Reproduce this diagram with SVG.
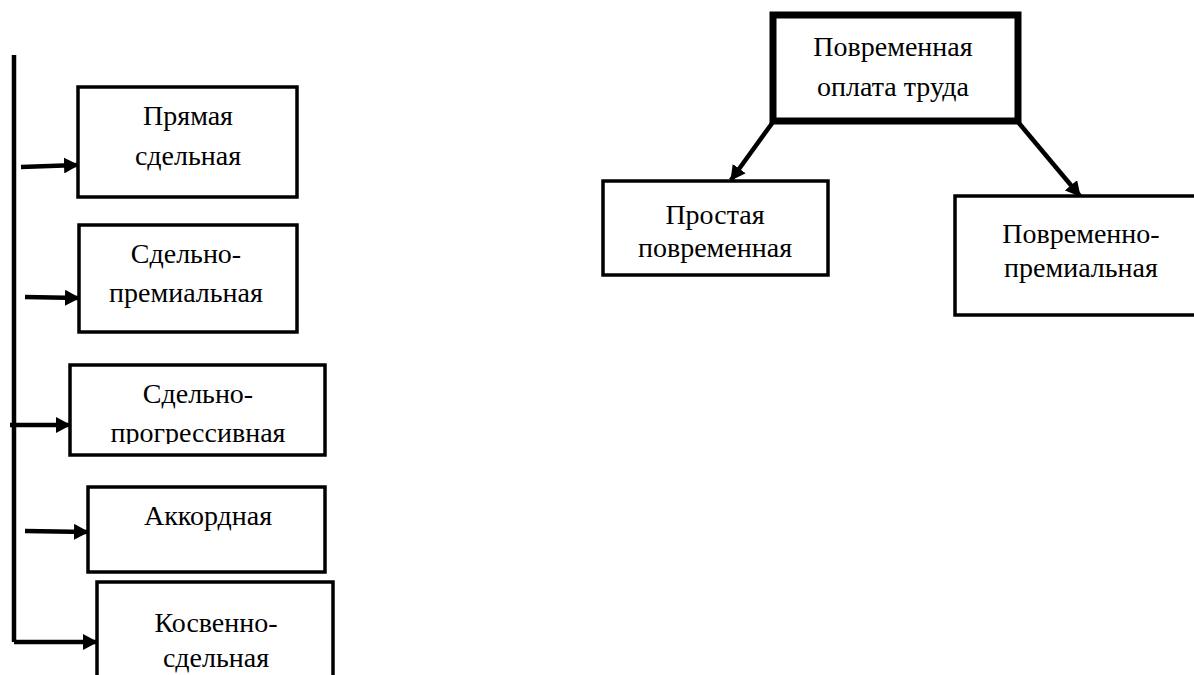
<svg xmlns="http://www.w3.org/2000/svg" width="1194" height="675" viewBox="0 0 1194 675">
<style>
.box{fill:#fff;stroke:#000;stroke-width:3.5}
.thick{fill:#fff;stroke:#000;stroke-width:7}
.t{font-family:"Liberation Serif","Times New Roman",serif;font-size:28px;fill:#000;text-anchor:middle}
.c{stroke:#000;stroke-width:4.5;fill:none}
</style>
<defs>
<marker id="ah" markerUnits="userSpaceOnUse" markerWidth="15" markerHeight="16" refX="14" refY="8" orient="auto">
<path d="M0,0 L15,8 L0,16 Z" fill="#000"/>
</marker>
<clipPath id="clip3"><rect x="70" y="365" width="255" height="79"/></clipPath>
</defs>
<rect width="1194" height="675" fill="#fff"/>
<g id="connectors">
<line class="c" x1="14" y1="55" x2="14" y2="642" stroke-width="4"/>
<line class="c" x1="21" y1="167" x2="78" y2="165" marker-end="url(#ah)"/>
<line class="c" x1="25" y1="297" x2="79" y2="298" marker-end="url(#ah)"/>
<line class="c" x1="10" y1="425" x2="70" y2="425" marker-end="url(#ah)"/>
<line class="c" x1="25" y1="531" x2="88" y2="532" marker-end="url(#ah)"/>
<line class="c" x1="14" y1="642" x2="97" y2="642" marker-end="url(#ah)"/>
<line class="c" x1="773" y1="122" x2="731" y2="180" marker-end="url(#ah)"/>
<line class="c" x1="1018" y1="122" x2="1080" y2="196" marker-end="url(#ah)"/>
</g>
<g id="n1">
<rect class="box" x="78" y="87" width="219" height="110"/>
<text class="t" x="188" y="125">Прямая</text>
<text class="t" x="188" y="165">сдельная</text>
</g>
<g id="n2">
<rect class="box" x="79" y="225" width="218" height="107"/>
<text class="t" x="186" y="263">Сдельно-</text>
<text class="t" x="186" y="302">премиальная</text>
</g>
<g id="n3">
<rect class="box" x="70" y="365" width="255" height="90"/>
<g clip-path="url(#clip3)">
<text class="t" x="198" y="403">Сдельно-</text>
<text class="t" x="198" y="442">прогрессивная</text>
</g>
</g>
<g id="n4">
<rect class="box" x="88" y="487" width="237" height="85"/>
<text class="t" x="208" y="525">Аккордная</text>
</g>
<g id="n5">
<rect class="box" x="97" y="582" width="236" height="110"/>
<text class="t" x="216" y="632">Косвенно-</text>
<text class="t" x="216" y="667">сдельная</text>
</g>
<g id="n6">
<rect class="thick" x="773" y="15" width="245" height="106"/>
<text class="t" x="893" y="56">Повременная</text>
<text class="t" x="893" y="96">оплата труда</text>
</g>
<g id="n7">
<rect class="box" x="603" y="181" width="225" height="94"/>
<text class="t" x="715" y="224">Простая</text>
<text class="t" x="715" y="257">повременная</text>
</g>
<g id="n8">
<rect class="box" x="955" y="196" width="250" height="119"/>
<text class="t" x="1081" y="243">Повременно-</text>
<text class="t" x="1081" y="277">премиальная</text>
</g>
</svg>
